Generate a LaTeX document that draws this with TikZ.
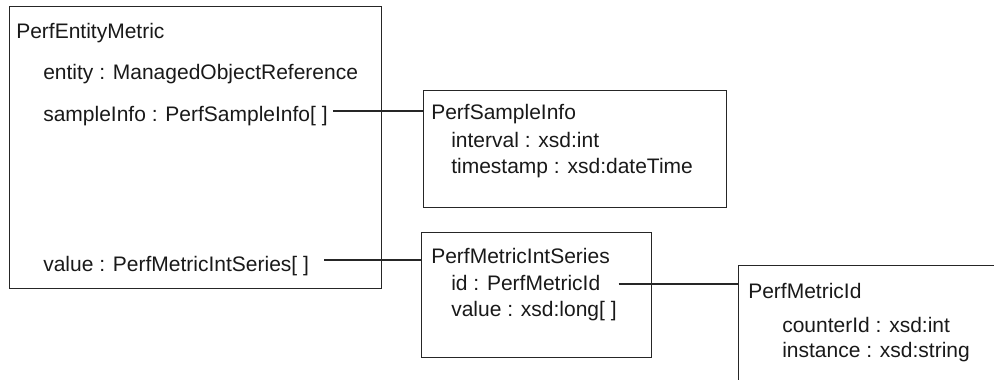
\documentclass[tikz,border=0pt]{standalone}
\usepackage{fontspec}
\setmainfont{Liberation Sans}
\begin{document}
\begin{tikzpicture}[x=0.75pt,y=-0.75pt,
  every node/.style={font=\fontsize{15.75}{18}\selectfont},
  box/.style={draw=black!85, line width=0.85pt, anchor=north west, inner sep=0pt},
  txt/.style={anchor=base west, inner sep=0pt, text=black!90},
  link/.style={draw=black!85, line width=0.8pt}]
\useasboundingbox (0,0) rectangle (994,379);
\clip (0,0) rectangle (994,379);
% boxes
\node[box, minimum width=279pt, minimum height=211.5pt] (pem) at (9,6) {};
\node[box, minimum width=227.25pt, minimum height=87.75pt] (psi) at (423,90) {};
\node[box, minimum width=172.5pt, minimum height=93.75pt] (pmis) at (421,232) {};
\node[box, minimum width=196.5pt, minimum height=101.25pt] (pmid) at (738,265) {};
% PerfEntityMetric
\node[txt] (t1) at (16,38) {PerfEntityMetric};
\node[txt] (t1a) at (43,79) {entity : ManagedObjectReference};
\node[txt] (t1b) at (43,121) {sampleInfo : PerfSampleInfo[ ]};
\node[txt] (t1c) at (43,271) {value : PerfMetricIntSeries[ ]};
% PerfSampleInfo
\node[txt] (t2) at (431,119) {PerfSampleInfo};
\node[txt] (t2a) at (451,147) {interval : xsd:int};
\node[txt] (t2b) at (451,173) {timestamp : xsd:dateTime};
% PerfMetricIntSeries
\node[txt] (t3) at (431,263) {PerfMetricIntSeries};
\node[txt] (t3a) at (451,290) {id : PerfMetricId};
\node[txt] (t3b) at (451,316) {value : xsd:long[ ]};
% PerfMetricId
\node[txt] (t4) at (748,298) {PerfMetricId};
\node[txt] (t4a) at (782,332.5) {counterId : xsd:int};
\node[txt] (t4b) at (782,357.5) {instance : xsd:string};
% connectors
\coordinate (c1) at ([xshift=3.75pt,yshift=7.5pt]t1b.base east);
\coordinate (c2) at ([xshift=11.25pt,yshift=8.25pt]t1c.base east);
\coordinate (c3) at ([xshift=13.5pt,yshift=4.5pt]t3a.base east);
\draw[link] (c1) -- (c1 -| psi.west);
\draw[link] (c2) -- (c2 -| pmis.west);
\draw[link] (c3) -- (c3 -| pmid.west);
\end{tikzpicture}
\end{document}
